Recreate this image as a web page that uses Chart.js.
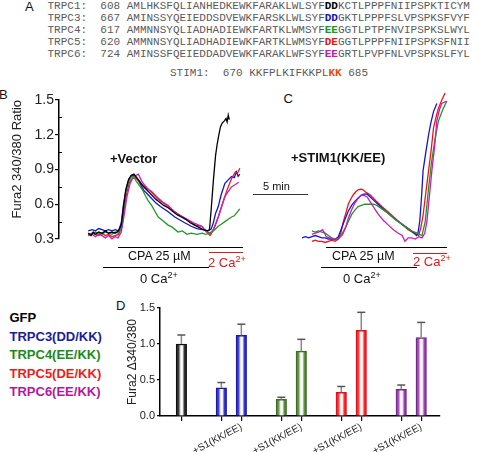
<!DOCTYPE html>
<html>
<head>
<meta charset="utf-8">
<script src="https://cdn.jsdelivr.net/npm/chart.js@4.4.1/dist/chart.umd.min.js"></script>
<style>
  html, body { margin: 0; padding: 0; background: #fff; }
  #fig { position: relative; width: 477px; height: 452px; overflow: hidden; font-family: "Liberation Sans", Arial, sans-serif; color: #111; }
  #fig canvas { position: absolute; }
  .t { position: absolute; white-space: nowrap; line-height: 1; }
  .seq { position: absolute; margin: 0; font: 11px/12px "Liberation Mono", monospace; color: #5a5a5a; white-space: pre; }
  .seq b { font-weight: bold; }
  .rule { position: absolute; height: 0; border-top: 1.5px solid #000; }
  sup { font-size: 0.7em; line-height: 0; vertical-align: 0.5em; }
  .bold { font-weight: bold; }
</style>
</head>
<body>
<div id="fig">
  <div class="t" style="left:25px;top:0;font-size:13px">A</div>
<pre class="seq" style="left:47.5px;top:0">TRPC1:  608 AMLHKSFQLIANHEDKEWKFARAKLWLSYF<b style="color:#000">DD</b>KCTLPPPFNIIPSPKTICYM
TRPC3:  667 AMINSSYQEIEDDSDVEWKFARSKLWLSYF<b style="color:#1414c0">DD</b>GKTLPPPFSLVPSPKSFVYF
TRPC4:  617 AMMNNSYQLIADHADIEWKFARTKLWMSYF<b style="color:#1a9a1a">EE</b>GGTLPTPFNVIPSPKSLWYL
TRPC5:  620 AMMNNSYQLIADHADIEWKFARTKLWMSYF<b style="color:#e01818">DE</b>GGTLPPPFNIIPSPKSFNII
TRPC6:  724 AMINSSFQEIEDDADVEWKFARAKLWFSYF<b style="color:#c020b0">EE</b>GRTLPVPFNLVPSPKSLFYL</pre>
<pre class="seq" style="left:170px;top:66.5px">STIM1:  670 KKFPLKIFKKPL<b style="color:#e84a10">KK</b> 685</pre>

  <div class="t" style="left:-1px;top:87.5px;font-size:13px">B</div>
  <div class="t" style="left:283.5px;top:91.5px;font-size:13px">C</div>
  <div class="t" style="left:116px;top:298.5px;font-size:13px">D</div>

  <canvas id="chartB" width="245" height="159" style="left:0;top:90px"></canvas>
  <canvas id="chartC" width="227" height="164" style="left:250px;top:85px"></canvas>
  <canvas id="chartD" width="340" height="156" style="left:110px;top:296px"></canvas>

  <div class="t bold" style="left:110px;top:152px;font-size:13px">+Vector</div>
  <div class="t bold" style="left:291px;top:151px;font-size:13px">+STIM1(KK/EE)</div>
  <div class="t" style="left:263px;top:180.5px;font-size:11px">5 min</div>
  <div class="rule" style="left:253px;top:193.5px;width:55px;border-top-width:1px;border-color:#333"></div>

  <div class="rule" style="left:118px;top:246.5px;width:125px"></div>
  <div class="rule" style="left:209px;top:252px;width:34px;border-color:#e01818"></div>
  <div class="rule" style="left:103px;top:267px;width:106px"></div>
  <div class="t" style="left:128px;top:250px;font-size:12.5px">CPA 25 µM</div>
  <div class="t" style="left:208px;top:255.5px;font-size:13px;color:#e01818">2 Ca<sup>2+</sup></div>
  <div class="t" style="left:140px;top:271.5px;font-size:13px">0 Ca<sup>2+</sup></div>

  <div class="rule" style="left:326px;top:246.5px;width:121px"></div>
  <div class="rule" style="left:413px;top:252.5px;width:34px;border-color:#e01818"></div>
  <div class="rule" style="left:321px;top:267px;width:96px"></div>
  <div class="t" style="left:332px;top:250px;font-size:12.5px">CPA 25 µM</div>
  <div class="t" style="left:413px;top:255px;font-size:13px;color:#e01818">2 Ca<sup>2+</sup></div>
  <div class="t" style="left:343px;top:271.5px;font-size:13px">0 Ca<sup>2+</sup></div>

  <div id="legend"></div>
</div>

<script>
// panel B / C : Fura2 ratio traces, time in min
const ratioTicks = [0.3, 0.6, 0.9, 1.2, 1.5];
const ratioMinorTicks = [0.45, 0.75, 1.05, 1.35];

const vectorBlack = [[-0.05,0.35],[0.2,0.33],[0.4,0.36],[0.6,0.34],[0.9,0.36],[1.2,0.35],[1.5,0.37],[1.8,0.35],[2.1,0.36],[2.4,0.35],[2.7,0.37],[2.95,0.42],[3.15,0.58],[3.35,0.72],[3.6,0.81],[3.85,0.85],[4.1,0.86],[4.35,0.83],[4.6,0.80],[4.9,0.76],[5.2,0.73],[5.5,0.70],[5.8,0.67],[6.1,0.64],[6.4,0.62],[6.8,0.59],[7.2,0.57],[7.6,0.54],[8.0,0.51],[8.4,0.49],[8.8,0.47],[9.2,0.44],[9.6,0.42],[10.0,0.40],[10.4,0.38],[10.8,0.37],[10.95,0.38],[11.1,0.55],[11.3,0.80],[11.5,1.02],[11.65,1.12],[11.8,1.20],[11.95,1.27],[12.1,1.30],[12.3,1.32],[12.45,1.34],[12.55,1.31],[12.65,1.37],[12.75,1.33]];
const vectorBlue = [[-0.05,0.37],[0.3,0.38],[0.6,0.37],[0.9,0.39],[1.2,0.38],[1.5,0.37],[1.8,0.38],[2.1,0.37],[2.4,0.38],[2.7,0.37],[2.95,0.44],[3.15,0.60],[3.4,0.74],[3.65,0.82],[3.9,0.85],[4.15,0.85],[4.4,0.82],[4.7,0.77],[5.0,0.72],[5.4,0.68],[5.7,0.65],[6.1,0.61],[6.5,0.58],[7.2,0.535],[7.8,0.49],[8.7,0.44],[9.3,0.41],[9.8,0.39],[10.3,0.38],[10.8,0.37],[11.1,0.385],[11.3,0.44],[11.5,0.52],[11.75,0.58],[12.0,0.68],[12.35,0.78],[12.65,0.81],[12.95,0.84],[13.2,0.83],[13.4,0.88],[13.55,0.84],[13.7,0.86]];
const vectorGreen = [[-0.05,0.35],[0.3,0.34],[0.6,0.36],[0.9,0.35],[1.2,0.34],[1.5,0.36],[1.8,0.35],[2.1,0.34],[2.4,0.36],[2.7,0.35],[2.95,0.40],[3.15,0.56],[3.4,0.72],[3.65,0.80],[3.9,0.84],[4.1,0.84],[4.3,0.80],[4.6,0.76],[4.9,0.72],[5.1,0.68],[5.4,0.63],[5.7,0.59],[6.0,0.54],[6.3,0.49],[6.7,0.46],[7.2,0.42],[7.6,0.40],[8.1,0.36],[8.5,0.37],[8.9,0.34],[9.3,0.35],[9.8,0.34],[10.3,0.35],[10.6,0.34],[11.0,0.35],[11.3,0.37],[11.75,0.41],[12.05,0.43],[12.35,0.45],[12.65,0.47],[12.95,0.49],[13.2,0.50],[13.45,0.53],[13.7,0.56]];
const vectorRed = [[-0.05,0.34],[0.3,0.35],[0.6,0.34],[0.9,0.33],[1.2,0.35],[1.5,0.33],[1.8,0.34],[2.1,0.32],[2.4,0.33],[2.7,0.34],[3.0,0.40],[3.2,0.55],[3.45,0.70],[3.7,0.79],[3.95,0.82],[4.2,0.83],[4.45,0.81],[4.8,0.77],[5.2,0.74],[5.7,0.71],[6.2,0.66],[6.7,0.62],[7.2,0.59],[7.7,0.54],[8.2,0.51],[8.7,0.48],[9.2,0.45],[9.7,0.42],[10.25,0.41],[10.6,0.37],[10.9,0.34],[11.0,0.33],[11.2,0.36],[11.45,0.41],[11.75,0.49],[12.05,0.58],[12.35,0.67],[12.65,0.75],[12.95,0.82],[13.3,0.88],[13.5,0.87],[13.7,0.91]];
const vectorMagenta = [[-0.05,0.33],[0.3,0.34],[0.6,0.32],[0.9,0.34],[1.2,0.33],[1.5,0.31],[1.8,0.33],[2.1,0.30],[2.4,0.32],[2.65,0.31],[2.95,0.36],[3.2,0.50],[3.45,0.66],[3.75,0.78],[4.0,0.83],[4.3,0.85],[4.5,0.86],[4.8,0.80],[5.1,0.76],[5.7,0.70],[6.3,0.64],[7.2,0.58],[8.0,0.52],[8.7,0.48],[9.5,0.44],[10.25,0.41],[10.6,0.37],[11.0,0.35],[11.3,0.38],[11.5,0.43],[11.75,0.49],[12.05,0.58],[12.35,0.665],[12.65,0.71],[12.95,0.75],[13.3,0.77],[13.6,0.79]];

const stimBlue = [[0,0.31],[0.3,0.32],[0.6,0.31],[0.9,0.32],[1.2,0.33],[1.5,0.32],[1.8,0.31],[2.1,0.31],[2.4,0.30],[2.7,0.30],[3.0,0.295],[3.3,0.32],[3.6,0.395],[3.9,0.47],[4.2,0.54],[4.5,0.59],[4.8,0.625],[5.1,0.655],[5.4,0.68],[5.7,0.69],[5.95,0.685],[6.45,0.64],[6.95,0.595],[7.7,0.53],[8.45,0.47],[9.2,0.42],[9.95,0.37],[10.4,0.33],[10.55,0.36],[10.7,0.455],[10.85,0.65],[11.0,0.89],[11.25,1.05],[11.5,1.20],[11.7,1.30],[11.95,1.40],[12.25,1.47]];
const stimGreen = [[0.9,0.37],[1.2,0.36],[1.5,0.37],[1.8,0.36],[2.1,0.35],[2.4,0.33],[2.7,0.31],[3.0,0.30],[3.3,0.30],[3.6,0.34],[3.9,0.39],[4.2,0.45],[4.5,0.51],[4.8,0.55],[5.1,0.58],[5.4,0.59],[5.7,0.60],[6.1,0.60],[6.5,0.60],[6.8,0.59],[7.25,0.56],[7.85,0.52],[8.45,0.47],[9.2,0.42],[9.95,0.37],[10.45,0.35],[10.9,0.33],[11.2,0.455],[11.5,0.74],[11.75,0.95],[11.95,1.08],[12.2,1.22],[12.4,1.32],[12.8,1.42],[13.15,1.49]];
const stimRed = [[0.9,0.28],[1.2,0.29],[1.5,0.28],[1.8,0.28],[2.1,0.27],[2.4,0.28],[2.7,0.29],[3.0,0.28],[3.3,0.30],[3.55,0.36],[3.75,0.45],[4.0,0.53],[4.2,0.60],[4.45,0.65],[4.65,0.68],[4.9,0.71],[5.1,0.725],[5.35,0.73],[5.55,0.725],[5.85,0.70],[6.2,0.68],[6.7,0.63],[7.25,0.58],[7.85,0.53],[8.45,0.48],[9.05,0.43],[9.65,0.38],[10.1,0.355],[10.6,0.33],[10.8,0.40],[11.0,0.505],[11.25,0.70],[11.5,0.89],[11.75,1.08],[11.95,1.26],[12.2,1.36],[12.4,1.43],[12.7,1.50],[13.0,1.56]];
const stimMagenta = [[0.9,0.34],[1.2,0.35],[1.5,0.36],[1.7,0.37],[1.85,0.38],[2.0,0.36],[2.2,0.32],[2.5,0.31],[2.8,0.30],[3.1,0.30],[3.4,0.31],[3.7,0.34],[4.0,0.41],[4.2,0.48],[4.5,0.55],[4.8,0.61],[5.1,0.65],[5.4,0.68],[5.65,0.675],[5.9,0.665],[6.2,0.62],[6.6,0.56],[6.95,0.51],[7.4,0.46],[7.85,0.42],[8.3,0.38],[8.75,0.35],[9.1,0.33],[9.35,0.28],[9.65,0.31],[9.95,0.31],[10.3,0.30],[10.6,0.32],[10.9,0.31],[11.15,0.35],[11.35,0.455],[11.55,0.65],[11.8,0.89],[12.05,1.10],[12.25,1.32],[12.5,1.42],[12.7,1.47],[13.15,1.49]];

// panel D : delta ratio bars
const groupNames = ['GFP', 'TRPC3(DD/KK)', 'TRPC4(EE/KK)', 'TRPC5(DE/KK)', 'TRPC6(EE/KK)'];
const barSlots = [0, 2, 3, 5, 6, 8, 9, 11, 12];
const barGroups = [0, 1, 1, 2, 2, 3, 3, 4, 4];
const barMeans = [1.00, 0.39, 1.12, 0.23, 0.90, 0.33, 1.19, 0.37, 1.09];
const barErrors = [0.125, 0.075, 0.155, 0.03, 0.165, 0.08, 0.25, 0.06, 0.21];
const labelledSlots = [3, 6, 9, 12];
const deltaTicks = [0, 0.5, 1.0, 1.5];

const traceColors = { black: '#000000', blue: '#1414d2', green: '#22962a', red: '#f01414', magenta: '#c81eb4' };
const legendColors = ['#000000', '#1c1c9c', '#188c18', '#ee1c1c', '#b4189c'];
const barEdge = ['#111111', '#1a1aa8', '#3f6a2a', '#dd101e', '#76288c'];
const barTint = ['#333333', '#3838d0', '#5e8e40', '#ff2a2a', '#9c44b0'];

Chart.defaults.font.family = "'Liberation Sans', Arial, sans-serif";

document.getElementById('legend').innerHTML = groupNames.map((name, i) =>
  `<div class="t bold" style="left:9.5px;top:${311 + i * 18.5}px;font-size:13px;color:${legendColors[i]}">${name}</div>`
).join('');

function toPoints(arr) {
  return arr.map(p => ({ x: p[0], y: p[1] }));
}

function traceSet(arr, color) {
  return { data: toPoints(arr), borderColor: color, borderWidth: 1.3, pointRadius: 0, tension: 0, clip: false, fill: false };
}

const minorTicks = {
  id: 'minorTicks',
  afterDraw(chart) {
    const y = chart.scales.y;
    const c = chart.ctx;
    c.save();
    c.strokeStyle = '#000';
    c.lineWidth = 1;
    ratioMinorTicks.forEach(v => {
      const py = Math.round(y.getPixelForValue(v)) + 0.5;
      c.beginPath();
      c.moveTo(chart.chartArea.left, py);
      c.lineTo(chart.chartArea.left + 3, py);
      c.stroke();
    });
    c.restore();
  }
};

// B: +Vector
new Chart(document.getElementById('chartB'), {
  type: 'line',
  data: {
    datasets: [
      traceSet(vectorBlack, traceColors.black),
      traceSet(vectorGreen, traceColors.green),
      traceSet(vectorMagenta, traceColors.magenta),
      traceSet(vectorRed, traceColors.red),
      traceSet(vectorBlue, traceColors.blue)
    ]
  },
  options: {
    responsive: false,
    animation: false,
    layout: { padding: { top: 10, right: 3, bottom: 10, left: 0 } },
    plugins: { legend: { display: false }, tooltip: { enabled: false } },
    scales: {
      x: { type: 'linear', display: false, min: -2.7, max: 13.9 },
      y: {
        min: 0.3,
        max: 1.5,
        afterBuildTicks: s => { s.ticks = ratioTicks.map(v => ({ value: v })); },
        afterFit: s => { s.width = 59; },
        ticks: { callback: v => v.toFixed(1), font: { size: 14 }, color: '#222', padding: 1 },
        grid: { drawOnChartArea: false, tickLength: 4, color: '#000', lineWidth: 1.2 },
        border: { color: '#000', width: 1.5 },
        title: { display: true, text: 'Fura2 340/380 Ratio', align: 'end', font: { size: 13 }, color: '#222', padding: { top: 10, bottom: 0 } }
      }
    }
  },
  plugins: [minorTicks]
});

// C: +STIM1(KK/EE)
new Chart(document.getElementById('chartC'), {
  type: 'line',
  data: {
    datasets: [
      traceSet(stimMagenta, traceColors.magenta),
      traceSet(stimGreen, traceColors.green),
      traceSet(stimBlue, traceColors.blue),
      traceSet(stimRed, traceColors.red)
    ]
  },
  options: {
    responsive: false,
    animation: false,
    layout: { padding: { top: 15, right: 0, bottom: 10, left: 0 } },
    plugins: { legend: { display: false }, tooltip: { enabled: false } },
    scales: {
      x: { type: 'linear', display: false, min: -4.73, max: 15.9 },
      y: { display: false, min: 0.3, max: 1.5 }
    }
  }
});

// D: bar summary
function barFill(context) {
  const i = context.dataIndex;
  const g0 = barGroups[i] || 0;
  const xs = context.chart.scales.x;
  if (!xs || i === undefined) return barTint[g0];
  const px = xs.getPixelForValue(barSlots[i]);
  if (!Number.isFinite(px)) return barTint[g0];
  const g = context.chart.ctx.createLinearGradient(px - 5, 0, px + 5, 0);
  g.addColorStop(0, barTint[g0]);
  g.addColorStop(0.2, barTint[g0]);
  g.addColorStop(0.45, '#ffffff');
  g.addColorStop(0.6, '#ffffff');
  g.addColorStop(0.8, barTint[g0]);
  g.addColorStop(1, barTint[g0]);
  return g;
}

const errorBars = {
  id: 'errorBars',
  afterDatasetsDraw(chart) {
    const meta = chart.getDatasetMeta(0);
    const y = chart.scales.y;
    const c = chart.ctx;
    c.save();
    c.lineWidth = 1.5;
    meta.data.forEach((bar, i) => {
      const top = y.getPixelForValue(barMeans[i] + barErrors[i]);
      c.strokeStyle = '#8a8a8a';
      c.beginPath();
      c.moveTo(bar.x, bar.y);
      c.lineTo(bar.x, top);
      c.stroke();
      c.strokeStyle = '#555';
      c.beginPath();
      c.moveTo(bar.x - 4, top);
      c.lineTo(bar.x + 4, top);
      c.stroke();
    });
    c.restore();
  }
};

new Chart(document.getElementById('chartD'), {
  type: 'bar',
  data: {
    datasets: [{
      data: barSlots.map((s, i) => ({ x: s, y: barMeans[i] })),
      backgroundColor: barFill,
      borderColor: barGroups.map(g => barEdge[g]),
      borderWidth: 1.5,
      barThickness: 10.5
    }]
  },
  options: {
    responsive: false,
    animation: false,
    layout: { padding: { top: 12, right: 10, bottom: 0, left: 0 } },
    plugins: { legend: { display: false }, tooltip: { enabled: false } },
    scales: {
      x: {
        type: 'linear',
        min: -1.07,
        max: 12.94,
        offset: false,
        afterBuildTicks: s => { s.ticks = barSlots.map(v => ({ value: v })); },
        afterFit: s => { s.height = 36; },
        ticks: {
          autoSkip: false,
          maxRotation: 28,
          minRotation: 28,
          font: { size: 10 },
          color: '#222',
          padding: 0,
          callback: v => labelledSlots.includes(v) ? '+S1(KK/EE)' : ''
        },
        grid: { offset: false, drawOnChartArea: false, tickLength: 5, color: '#000', lineWidth: 1.2 },
        border: { color: '#000', width: 1.5 }
      },
      y: {
        min: 0,
        max: 1.5,
        afterBuildTicks: s => { s.ticks = deltaTicks.map(v => ({ value: v })); },
        afterFit: s => { s.width = 50; },
        ticks: { callback: v => v.toFixed(1), font: { size: 11 }, color: '#222', padding: 2 },
        grid: { drawOnChartArea: false, tickLength: 3, color: '#000', lineWidth: 1.2 },
        border: { color: '#000', width: 1.5 },
        title: { display: true, text: 'Fura2 Δ340/380', font: { size: 12 }, color: '#222', padding: { top: 15, bottom: 0 } }
      }
    }
  },
  plugins: [errorBars]
});
</script>
</body>
</html>
